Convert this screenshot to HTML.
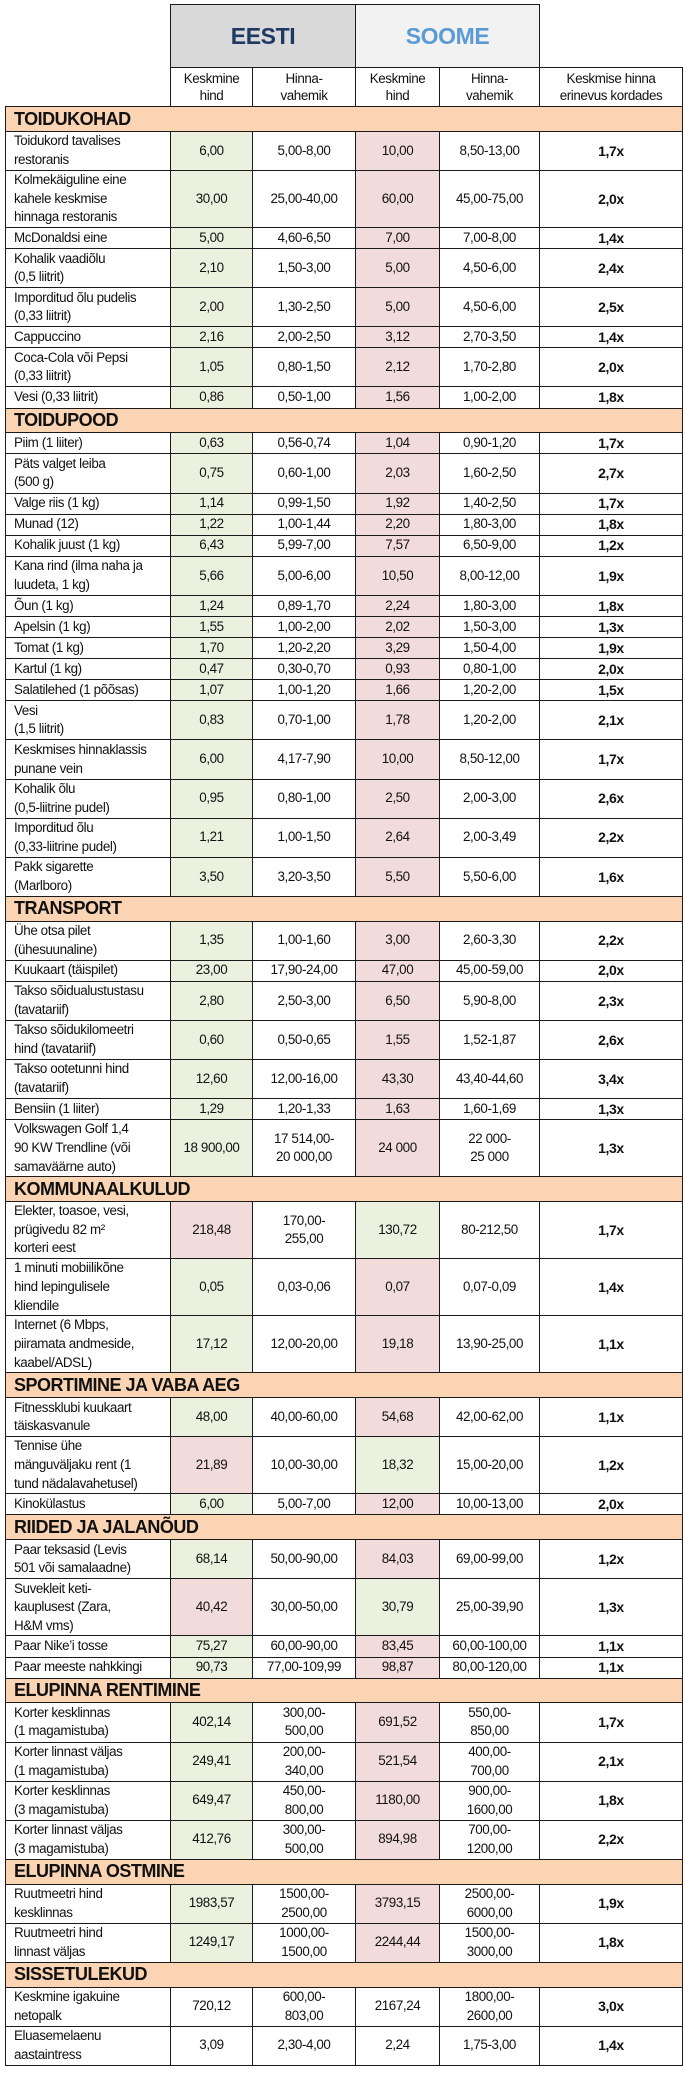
<!DOCTYPE html>
<html><head><meta charset="utf-8">
<style>
html,body{margin:0;padding:0;background:#fff;width:685px;height:2096px;overflow:hidden}
table{position:absolute;left:5px;top:4px;border-collapse:collapse;table-layout:fixed;width:677px;
font-family:"Liberation Sans",sans-serif;font-size:13.4px;color:#111;letter-spacing:-0.4px}
td{border:1.5px solid #1a1a1a;padding:0 2px;text-align:center;vertical-align:middle;line-height:18.6px;overflow:hidden;white-space:nowrap}
td.l{text-align:left;padding-left:8px}
td.n{border:none}
.g{background:#ebf1de}.r{background:#f2dcdb}
.b{font-weight:bold;font-size:14px}
tr.s td{background:#fbd4b4;text-align:left;font-weight:bold;font-size:18px;padding-left:8px;height:23.8px;letter-spacing:-0.5px}
tr.h1 td{height:62px;font-weight:bold;font-size:23px}
tr.h2 td{height:38px;line-height:17.5px}
tr.a td{height:20.1px}
tr.c td{height:38.1px}
tr.d td{height:56.1px}
</style></head><body>
<table>
<colgroup><col style="width:165px"><col style="width:82px"><col style="width:103px"><col style="width:84px"><col style="width:100px"><col style="width:143px"></colgroup>
<tr class="h1"><td class="n"></td><td colspan="2" style="background:#d9d9d9;color:#1f3864">EESTI</td><td colspan="2" style="background:#f2f2f2;color:#5b9bd5">SOOME</td><td class="n"></td></tr>
<tr class="h2"><td class="n"></td><td>Keskmine<br>hind</td><td>Hinna-<br>vahemik</td><td>Keskmine<br>hind</td><td>Hinna-<br>vahemik</td><td>Keskmise hinna<br>erinevus kordades</td></tr>

<tr class="s"><td colspan="6">TOIDUKOHAD</td></tr>
<tr class="c"><td class="l">Toidukord tavalises<br>restoranis</td><td class="g">6,00</td><td>5,00-8,00</td><td class="r">10,00</td><td>8,50-13,00</td><td class="b">1,7x</td></tr>
<tr class="d"><td class="l">Kolmekäiguline eine<br>kahele keskmise<br>hinnaga restoranis</td><td class="g">30,00</td><td>25,00-40,00</td><td class="r">60,00</td><td>45,00-75,00</td><td class="b">2,0x</td></tr>
<tr class="a"><td class="l">McDonaldsi eine</td><td class="g">5,00</td><td>4,60-6,50</td><td class="r">7,00</td><td>7,00-8,00</td><td class="b">1,4x</td></tr>
<tr class="c"><td class="l">Kohalik vaadiõlu<br>(0,5 liitrit)</td><td class="g">2,10</td><td>1,50-3,00</td><td class="r">5,00</td><td>4,50-6,00</td><td class="b">2,4x</td></tr>
<tr class="c"><td class="l">Imporditud õlu pudelis<br>(0,33 liitrit)</td><td class="g">2,00</td><td>1,30-2,50</td><td class="r">5,00</td><td>4,50-6,00</td><td class="b">2,5x</td></tr>
<tr class="a"><td class="l">Cappuccino</td><td class="g">2,16</td><td>2,00-2,50</td><td class="r">3,12</td><td>2,70-3,50</td><td class="b">1,4x</td></tr>
<tr class="c"><td class="l">Coca-Cola või Pepsi<br>(0,33 liitrit)</td><td class="g">1,05</td><td>0,80-1,50</td><td class="r">2,12</td><td>1,70-2,80</td><td class="b">2,0x</td></tr>
<tr class="a"><td class="l">Vesi (0,33 liitrit)</td><td class="g">0,86</td><td>0,50-1,00</td><td class="r">1,56</td><td>1,00-2,00</td><td class="b">1,8x</td></tr>

<tr class="s"><td colspan="6">TOIDUPOOD</td></tr>
<tr class="a"><td class="l">Piim (1 liiter)</td><td class="g">0,63</td><td>0,56-0,74</td><td class="r">1,04</td><td>0,90-1,20</td><td class="b">1,7x</td></tr>
<tr class="c"><td class="l">Päts valget leiba<br>(500 g)</td><td class="g">0,75</td><td>0,60-1,00</td><td class="r">2,03</td><td>1,60-2,50</td><td class="b">2,7x</td></tr>
<tr class="a"><td class="l">Valge riis (1 kg)</td><td class="g">1,14</td><td>0,99-1,50</td><td class="r">1,92</td><td>1,40-2,50</td><td class="b">1,7x</td></tr>
<tr class="a"><td class="l">Munad (12)</td><td class="g">1,22</td><td>1,00-1,44</td><td class="r">2,20</td><td>1,80-3,00</td><td class="b">1,8x</td></tr>
<tr class="a"><td class="l">Kohalik juust (1 kg)</td><td class="g">6,43</td><td>5,99-7,00</td><td class="r">7,57</td><td>6,50-9,00</td><td class="b">1,2x</td></tr>
<tr class="c"><td class="l">Kana rind (ilma naha ja<br>luudeta, 1 kg)</td><td class="g">5,66</td><td>5,00-6,00</td><td class="r">10,50</td><td>8,00-12,00</td><td class="b">1,9x</td></tr>
<tr class="a"><td class="l">Õun (1 kg)</td><td class="g">1,24</td><td>0,89-1,70</td><td class="r">2,24</td><td>1,80-3,00</td><td class="b">1,8x</td></tr>
<tr class="a"><td class="l">Apelsin (1 kg)</td><td class="g">1,55</td><td>1,00-2,00</td><td class="r">2,02</td><td>1,50-3,00</td><td class="b">1,3x</td></tr>
<tr class="a"><td class="l">Tomat (1 kg)</td><td class="g">1,70</td><td>1,20-2,20</td><td class="r">3,29</td><td>1,50-4,00</td><td class="b">1,9x</td></tr>
<tr class="a"><td class="l">Kartul (1 kg)</td><td class="g">0,47</td><td>0,30-0,70</td><td class="r">0,93</td><td>0,80-1,00</td><td class="b">2,0x</td></tr>
<tr class="a"><td class="l">Salatilehed (1 põõsas)</td><td class="g">1,07</td><td>1,00-1,20</td><td class="r">1,66</td><td>1,20-2,00</td><td class="b">1,5x</td></tr>
<tr class="c"><td class="l">Vesi<br>(1,5 liitrit)</td><td class="g">0,83</td><td>0,70-1,00</td><td class="r">1,78</td><td>1,20-2,00</td><td class="b">2,1x</td></tr>
<tr class="c"><td class="l">Keskmises hinnaklassis<br>punane vein</td><td class="g">6,00</td><td>4,17-7,90</td><td class="r">10,00</td><td>8,50-12,00</td><td class="b">1,7x</td></tr>
<tr class="c"><td class="l">Kohalik õlu<br>(0,5-liitrine pudel)</td><td class="g">0,95</td><td>0,80-1,00</td><td class="r">2,50</td><td>2,00-3,00</td><td class="b">2,6x</td></tr>
<tr class="c"><td class="l">Imporditud õlu<br>(0,33-liitrine pudel)</td><td class="g">1,21</td><td>1,00-1,50</td><td class="r">2,64</td><td>2,00-3,49</td><td class="b">2,2x</td></tr>
<tr class="c"><td class="l">Pakk sigarette<br>(Marlboro)</td><td class="g">3,50</td><td>3,20-3,50</td><td class="r">5,50</td><td>5,50-6,00</td><td class="b">1,6x</td></tr>

<tr class="s"><td colspan="6">TRANSPORT</td></tr>
<tr class="c"><td class="l">Ühe otsa pilet<br>(ühesuunaline)</td><td class="g">1,35</td><td>1,00-1,60</td><td class="r">3,00</td><td>2,60-3,30</td><td class="b">2,2x</td></tr>
<tr class="a"><td class="l">Kuukaart (täispilet)</td><td class="g">23,00</td><td>17,90-24,00</td><td class="r">47,00</td><td>45,00-59,00</td><td class="b">2,0x</td></tr>
<tr class="c"><td class="l">Takso sõidualustustasu<br>(tavatariif)</td><td class="g">2,80</td><td>2,50-3,00</td><td class="r">6,50</td><td>5,90-8,00</td><td class="b">2,3x</td></tr>
<tr class="c"><td class="l">Takso sõidukilomeetri<br>hind (tavatariif)</td><td class="g">0,60</td><td>0,50-0,65</td><td class="r">1,55</td><td>1,52-1,87</td><td class="b">2,6x</td></tr>
<tr class="c"><td class="l">Takso ootetunni hind<br>(tavatariif)</td><td class="g">12,60</td><td>12,00-16,00</td><td class="r">43,30</td><td>43,40-44,60</td><td class="b">3,4x</td></tr>
<tr class="a"><td class="l">Bensiin (1 liiter)</td><td class="g">1,29</td><td>1,20-1,33</td><td class="r">1,63</td><td>1,60-1,69</td><td class="b">1,3x</td></tr>
<tr class="d"><td class="l">Volkswagen Golf 1,4<br>90 KW Trendline (või<br>samaväärne auto)</td><td class="g">18 900,00</td><td>17 514,00-<br>20 000,00</td><td class="r">24 000</td><td>22 000-<br>25 000</td><td class="b">1,3x</td></tr>

<tr class="s"><td colspan="6">KOMMUNAALKULUD</td></tr>
<tr class="d"><td class="l">Elekter, toasoe, vesi,<br>prügivedu 82 m²<br>korteri eest</td><td class="r">218,48</td><td>170,00-<br>255,00</td><td class="g">130,72</td><td>80-212,50</td><td class="b">1,7x</td></tr>
<tr class="d"><td class="l">1 minuti mobiilikõne<br>hind lepingulisele<br>kliendile</td><td class="g">0,05</td><td>0,03-0,06</td><td class="r">0,07</td><td>0,07-0,09</td><td class="b">1,4x</td></tr>
<tr class="d"><td class="l">Internet (6 Mbps,<br>piiramata andmeside,<br>kaabel/ADSL)</td><td class="g">17,12</td><td>12,00-20,00</td><td class="r">19,18</td><td>13,90-25,00</td><td class="b">1,1x</td></tr>

<tr class="s"><td colspan="6">SPORTIMINE JA VABA AEG</td></tr>
<tr class="c"><td class="l">Fitnessklubi kuukaart<br>täiskasvanule</td><td class="g">48,00</td><td>40,00-60,00</td><td class="r">54,68</td><td>42,00-62,00</td><td class="b">1,1x</td></tr>
<tr class="d"><td class="l">Tennise ühe<br>mänguväljaku rent (1<br>tund nädalavahetusel)</td><td class="r">21,89</td><td>10,00-30,00</td><td class="g">18,32</td><td>15,00-20,00</td><td class="b">1,2x</td></tr>
<tr class="a"><td class="l">Kinokülastus</td><td class="g">6,00</td><td>5,00-7,00</td><td class="r">12,00</td><td>10,00-13,00</td><td class="b">2,0x</td></tr>

<tr class="s"><td colspan="6">RIIDED JA JALANÕUD</td></tr>
<tr class="c"><td class="l">Paar teksasid (Levis<br>501 või samalaadne)</td><td class="g">68,14</td><td>50,00-90,00</td><td class="r">84,03</td><td>69,00-99,00</td><td class="b">1,2x</td></tr>
<tr class="d"><td class="l">Suvekleit keti-<br>kauplusest (Zara,<br>H&amp;M vms)</td><td class="r">40,42</td><td>30,00-50,00</td><td class="g">30,79</td><td>25,00-39,90</td><td class="b">1,3x</td></tr>
<tr class="a"><td class="l">Paar Nike’i tosse</td><td class="g">75,27</td><td>60,00-90,00</td><td class="r">83,45</td><td>60,00-100,00</td><td class="b">1,1x</td></tr>
<tr class="a"><td class="l">Paar meeste nahkkingi</td><td class="g">90,73</td><td>77,00-109,99</td><td class="r">98,87</td><td>80,00-120,00</td><td class="b">1,1x</td></tr>

<tr class="s"><td colspan="6">ELUPINNA RENTIMINE</td></tr>
<tr class="c"><td class="l">Korter kesklinnas<br>(1 magamistuba)</td><td class="g">402,14</td><td>300,00-<br>500,00</td><td class="r">691,52</td><td>550,00-<br>850,00</td><td class="b">1,7x</td></tr>
<tr class="c"><td class="l">Korter linnast väljas<br>(1 magamistuba)</td><td class="g">249,41</td><td>200,00-<br>340,00</td><td class="r">521,54</td><td>400,00-<br>700,00</td><td class="b">2,1x</td></tr>
<tr class="c"><td class="l">Korter kesklinnas<br>(3 magamistuba)</td><td class="g">649,47</td><td>450,00-<br>800,00</td><td class="r">1180,00</td><td>900,00-<br>1600,00</td><td class="b">1,8x</td></tr>
<tr class="c"><td class="l">Korter linnast väljas<br>(3 magamistuba)</td><td class="g">412,76</td><td>300,00-<br>500,00</td><td class="r">894,98</td><td>700,00-<br>1200,00</td><td class="b">2,2x</td></tr>

<tr class="s"><td colspan="6">ELUPINNA OSTMINE</td></tr>
<tr class="c"><td class="l">Ruutmeetri hind<br>kesklinnas</td><td class="g">1983,57</td><td>1500,00-<br>2500,00</td><td class="r">3793,15</td><td>2500,00-<br>6000,00</td><td class="b">1,9x</td></tr>
<tr class="c"><td class="l">Ruutmeetri hind<br>linnast väljas</td><td class="g">1249,17</td><td>1000,00-<br>1500,00</td><td class="r">2244,44</td><td>1500,00-<br>3000,00</td><td class="b">1,8x</td></tr>

<tr class="s"><td colspan="6">SISSETULEKUD</td></tr>
<tr class="c"><td class="l">Keskmine igakuine<br>netopalk</td><td>720,12</td><td>600,00-<br>803,00</td><td>2167,24</td><td>1800,00-<br>2600,00</td><td class="b">3,0x</td></tr>
<tr class="c"><td class="l">Eluasemelaenu<br>aastaintress</td><td>3,09</td><td>2,30-4,00</td><td>2,24</td><td>1,75-3,00</td><td class="b">1,4x</td></tr>
</table>
</body></html>
